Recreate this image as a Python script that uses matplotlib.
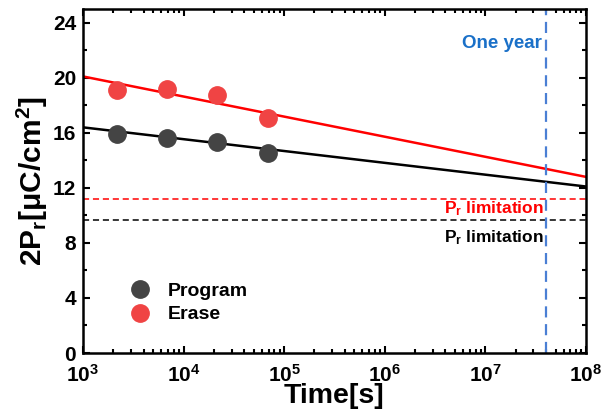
import matplotlib.pyplot as plt
import numpy as np
from matplotlib.ticker import MultipleLocator, LogLocator, NullFormatter

plt.rcParams['font.family'] = ['Liberation Sans', 'DejaVu Sans']
plt.rcParams['font.weight'] = 'bold'
plt.rcParams['mathtext.fontset'] = 'custom'
plt.rcParams['mathtext.rm'] = 'Liberation Sans:bold'
plt.rcParams['mathtext.it'] = 'Liberation Sans:bold'
plt.rcParams['mathtext.bf'] = 'Liberation Sans:bold'

# measured points
t = [2.16e3, 6.84e3, 2.16e4, 6.84e4]
program = [15.9, 15.65, 15.35, 14.5]
erase = [19.15, 19.2, 18.75, 17.1]

# extrapolated fits
fit_t = [1e3, 1e8]
fit_program = [16.4, 12.1]
fit_erase = [20.1, 12.8]

lim_erase = 11.2
lim_program = 9.65
one_year = 4.0e7

fig = plt.figure(figsize=(6.1, 4.19), dpi=100)
ax = fig.add_axes([0.136, 0.1575, 0.8246, 0.821])

ax.plot(fit_t, fit_erase, '-', color='#ff0000', lw=1.8)
ax.plot(fit_t, fit_program, '-', color='black', lw=1.8)
ax.plot(t, program, 'o', color='#444444', ms=12.5, label='Program', zorder=3)
ax.plot(t, erase, 'o', color='#f04444', ms=12.5, label='Erase', zorder=3)

ax.axhline(lim_erase, color='#ff0000', ls='--', lw=1.1, dashes=(4, 2.5))
ax.axhline(lim_program, color='black', ls='--', lw=1.1, dashes=(4, 2.5))
ax.axvline(one_year, color='#4a7fd4', ls='--', lw=1.6, dashes=(5, 3))

ax.text(one_year / 1.1, 22.5, 'One year', color='#1a70c8', fontsize=13.5,
        ha='right', va='center', fontweight='bold')
ax.text(one_year / 1.05, 10.5, r'P$_{\rm r}$ limitation', color='#ff0000', fontsize=12.5,
        ha='right', va='center', fontweight='bold')
ax.text(one_year / 1.05, 8.4, r'P$_{\rm r}$ limitation', color='black', fontsize=12.5,
        ha='right', va='center', fontweight='bold')

ax.set_xscale('log')
ax.set_xlim(1e3, 1e8)
ax.set_ylim(0, 25)
ax.yaxis.set_major_locator(MultipleLocator(4))
ax.yaxis.set_minor_locator(MultipleLocator(2))
ax.xaxis.set_major_locator(LogLocator(base=10, numticks=10))
ax.xaxis.set_minor_locator(LogLocator(base=10, subs=np.arange(2, 10), numticks=10))
ax.xaxis.set_minor_formatter(NullFormatter())

ax.tick_params(which='both', direction='in', top=True, right=True, width=1.5)
ax.tick_params(which='major', length=5, labelsize=15)
ax.tick_params(axis='x', which='major', pad=8)
ax.tick_params(axis='y', which='major', pad=5)
ax.tick_params(which='minor', length=3)
for s in ax.spines.values():
    s.set_linewidth(1.8)

ax.set_xlabel('Time[s]', fontsize=20.5, fontweight='bold', labelpad=-2)
ax.set_ylabel(r'2P$_{\rm r}$[$\mu$C/cm$^2$]', fontsize=21.5, fontweight='bold', labelpad=2)

ax.legend(loc='lower left', bbox_to_anchor=(0.055, 0.035), frameon=False, fontsize=14,
          handlelength=1.2, handletextpad=0.85, labelspacing=0.3)

fig.savefig('out.png', dpi=100)
